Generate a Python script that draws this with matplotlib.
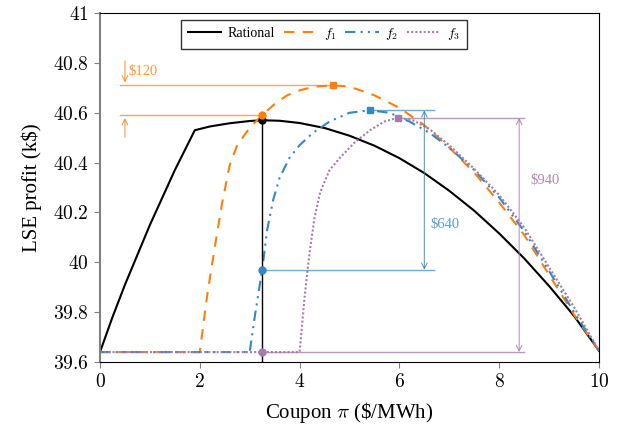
import numpy as np
import matplotlib.pyplot as plt

plt.rcParams['font.family'] = 'Liberation Serif'
plt.rcParams['mathtext.fontset'] = 'cm'

# curves
x_rat = [0, 0.25, 0.5, 0.75, 1.0, 1.25, 1.5, 1.75, 1.9, 2.2, 2.6, 3.0, 3.25, 3.6, 4.0, 4.5,
         5.0, 5.5, 6.0, 6.5, 7.0, 7.5, 8.0, 8.5, 9.0, 9.5, 10]
y_rat = [39.64, 39.78, 39.91, 40.03, 40.15, 40.26, 40.37, 40.47, 40.53, 40.545, 40.558, 40.567,
         40.57, 40.568, 40.559, 40.539, 40.508, 40.468, 40.418, 40.358, 40.287, 40.207, 40.116,
         40.016, 39.905, 39.785, 39.645]

x_f1 = [0, 2.0, 2.15, 2.3, 2.45, 2.6, 2.75, 3.0, 3.25, 3.5, 3.75, 4.0, 4.3, 4.67, 5.0, 5.5,
        6.0, 6.5, 7.0, 7.5, 8.0, 8.5, 9.0, 9.5, 10]
y_f1 = [39.64, 39.64, 39.87, 40.06, 40.24, 40.39, 40.47, 40.54, 40.59, 40.635, 40.67, 40.69,
        40.705, 40.71, 40.705, 40.67, 40.62, 40.55, 40.46, 40.36, 40.24, 40.11, 39.95, 39.79, 39.645]

x_f2 = [0, 3.0, 3.1, 3.25, 3.35, 3.47, 3.6, 3.8, 4.0, 4.27, 4.6, 5.0, 5.41, 5.8, 6.2, 6.6,
        7.0, 7.5, 8.0, 8.5, 9.0, 9.5, 10]
y_f2 = [39.64, 39.64, 39.78, 39.97, 40.13, 40.25, 40.34, 40.42, 40.47, 40.52, 40.565, 40.60,
        40.61, 40.60, 40.565, 40.52, 40.46, 40.37, 40.26, 40.125, 39.965, 39.80, 39.645]

x_f3 = [0, 4.0, 4.1, 4.2, 4.3, 4.41, 4.6, 4.81, 5.1, 5.41, 5.7, 5.97, 6.27, 6.6, 7.0, 7.5,
        8.0, 8.5, 9.0, 9.5, 10]
y_f3 = [39.64, 39.64, 39.86, 40.04, 40.18, 40.28, 40.37, 40.42, 40.48, 40.53, 40.565, 40.58,
        40.57, 40.535, 40.47, 40.375, 40.27, 40.14, 39.98, 39.82, 39.645]

rational_opt = (3.25, 40.57)
f_at_rational = [40.59, 39.97, 39.64]
f_opt_x = [4.67, 5.41, 5.97]
f_opt_y = [40.71, 40.61, 40.58]
gaps = ['\\$120', '\\$640', '\\$940']

c_orange = '#ff7f0e'
c_blue = '#3288c0'
c_purple = '#a87caa'

fig = plt.figure(figsize=(6.21, 4.30), dpi=100)
ax = fig.add_axes([0.161, 0.158, 0.8036, 0.8116])

ax.plot(x_rat, y_rat, color='black', lw=1.5, label='Rational')
ax.plot(x_f1, y_f1, color=c_orange, lw=1.5, ls=(0, (5, 4)), label='$f_1$')
ax.plot(x_f2, y_f2, color=c_blue, lw=1.5, ls=(0, (5, 2.5, 1, 2.5, 1, 2.5)), label='$f_2$')
ax.plot(x_f3, y_f3, color=c_purple, lw=1.5, ls=(0, (1, 1)), label='$f_3$')

# vertical line at the rational coupon
ax.plot([rational_opt[0], rational_opt[0]], [39.6, rational_opt[1]], color='black', lw=1, zorder=3)

# helper lines for the gaps
ax.plot([0.4, f_opt_x[0]], [f_opt_y[0]] * 2, color=c_orange, lw=1, alpha=0.7)
ax.plot([0.4, rational_opt[0]], [f_at_rational[0]] * 2, color=c_orange, lw=1, alpha=0.7)
ax.annotate('', xy=(0.5, f_opt_y[0]), xytext=(0.5, 40.82),
            arrowprops=dict(arrowstyle='->', color=c_orange, lw=0.8, alpha=0.8))
ax.annotate('', xy=(0.5, f_at_rational[0]), xytext=(0.5, 40.49),
            arrowprops=dict(arrowstyle='->', color=c_orange, lw=0.8, alpha=0.8))
ax.text(0.57, 40.765, gaps[0], color=c_orange, alpha=0.8, fontsize=10.5, va='center')

ax.plot([f_opt_x[1], 6.7], [f_opt_y[1]] * 2, color=c_blue, lw=1, alpha=0.7)
ax.plot([rational_opt[0], 6.7], [f_at_rational[1]] * 2, color=c_blue, lw=1, alpha=0.7)
ax.annotate('', xy=(6.5, f_opt_y[1]), xytext=(6.5, f_at_rational[1]),
            arrowprops=dict(arrowstyle='<->', color=c_blue, lw=0.8, alpha=0.8,
                            shrinkA=0, shrinkB=0))
ax.text(6.63, 40.15, gaps[1], color=c_blue, alpha=0.8, fontsize=10.5, va='center')

ax.plot([f_opt_x[2], 8.5], [f_opt_y[2]] * 2, color=c_purple, lw=1, alpha=0.8)
ax.plot([rational_opt[0], 8.5], [f_at_rational[2]] * 2, color=c_purple, lw=1, alpha=0.8)
ax.annotate('', xy=(8.4, f_opt_y[2]), xytext=(8.4, f_at_rational[2]),
            arrowprops=dict(arrowstyle='<->', color=c_purple, lw=0.8, alpha=0.8,
                            shrinkA=0, shrinkB=0))
ax.text(8.62, 40.33, gaps[2], color=c_purple, alpha=0.9, fontsize=10.5, va='center')

# markers
ax.plot(*rational_opt, 'o', color='black', ms=5, zorder=5)
for c, fy, ox, oy in zip([c_orange, c_blue, c_purple], f_at_rational, f_opt_x, f_opt_y):
    ax.plot(rational_opt[0], fy, 'o', color=c, ms=5, zorder=5)
    ax.plot(ox, oy, 's', color=c, ms=5, zorder=5)

ax.set_xlim(0, 10)
ax.set_ylim(39.6, 41)
ax.set_xticks([0, 2, 4, 6, 8, 10])
ax.set_xticklabels(['$%g$' % v for v in [0, 2, 4, 6, 8, 10]])
yt = [39.6, 39.8, 40, 40.2, 40.4, 40.6, 40.8, 41]
ax.set_yticks(yt)
ax.set_yticklabels(['$%g$' % v for v in yt])
ax.tick_params(labelsize=14, direction='out', color='gray', length=4, pad=4)
ax.spines['left'].set_color('gray')
ax.spines['left'].set_linewidth(1.5)

ax.set_xlabel(r'Coupon $\pi$ (\$/MWh)', fontsize=15, labelpad=6)
ax.set_ylabel('LSE profit (k\\$)', fontsize=15, labelpad=8)

leg = ax.legend(loc='upper center', bbox_to_anchor=(0.449, 0.98), ncol=4, fontsize=10,
                frameon=True, fancybox=False, edgecolor='black', handlelength=2.4,
                columnspacing=0.6, handletextpad=0.5, borderpad=0.45, borderaxespad=0)
leg.get_frame().set_linewidth(1)

fig.savefig('out.png', dpi=100)
